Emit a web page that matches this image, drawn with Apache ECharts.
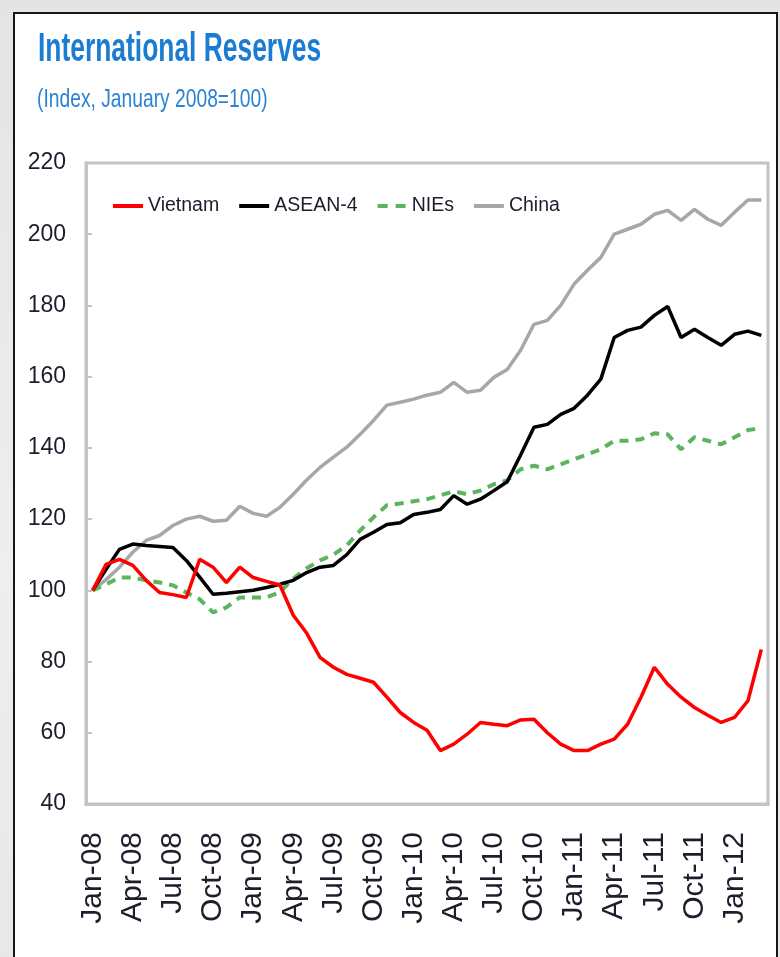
<!DOCTYPE html>
<html>
<head>
<meta charset="utf-8">
<title>International Reserves</title>
<script src="https://cdn.jsdelivr.net/npm/echarts@6/dist/echarts.min.js"></script>
<style>
  html, body { margin: 0; padding: 0; }
  body {
    width: 780px;
    height: 957px;
    overflow: hidden;
    position: relative;
    background: linear-gradient(180deg, #e4e4e5 0%, #eeeeef 60%, #e8e8e9 100%);
  }
  .frame {
    position: absolute;
    left: 13px;
    top: 12px;
    width: 761px;
    height: 960px;
    border: 2px solid #161616;
    background: #fff;
  }
  .chart-container {
    position: absolute;
    left: 0;
    top: 0;
    width: 780px;
    height: 957px;
  }
</style>
</head>
<body>
<div class="frame"></div>
<div id="chart" class="chart-container"></div>
<script>
// monthly, Jan-08 .. Mar-12
const months = [
  'Jan-08', 'Feb-08', 'Mar-08', 'Apr-08', 'May-08', 'Jun-08', 'Jul-08', 'Aug-08', 'Sep-08', 'Oct-08', 'Nov-08', 'Dec-08',
  'Jan-09', 'Feb-09', 'Mar-09', 'Apr-09', 'May-09', 'Jun-09', 'Jul-09', 'Aug-09', 'Sep-09', 'Oct-09', 'Nov-09', 'Dec-09',
  'Jan-10', 'Feb-10', 'Mar-10', 'Apr-10', 'May-10', 'Jun-10', 'Jul-10', 'Aug-10', 'Sep-10', 'Oct-10', 'Nov-10', 'Dec-10',
  'Jan-11', 'Feb-11', 'Mar-11', 'Apr-11', 'May-11', 'Jun-11', 'Jul-11', 'Aug-11', 'Sep-11', 'Oct-11', 'Nov-11', 'Dec-11',
  'Jan-12', 'Feb-12', 'Mar-12',
];

const vietnam = [
  100, 107.3, 108.7, 107, 102.8, 99.4, 98.8, 98, 108.7, 106.5, 102.2, 106.5,
  103.6, 102.5, 101.5, 93, 88, 81.2, 78.4, 76.4, 75.3, 74.2, 70, 65.7,
  62.9, 60.7, 55, 56.8, 59.6, 62.9, 62.4, 62, 63.6, 63.8, 60, 56.8,
  55, 55, 56.8, 58.2, 62.4, 70, 78.4, 73.6, 70, 67.1, 64.9, 62.9,
  64.3, 69, 83.4,
];

const asean4 = [
  100, 105.9, 111.5, 113, 112.6, 112.3, 112, 108.4, 103.7, 98.9, 99.2, 99.6,
  100, 100.8, 101.7, 102.8, 105, 106.5, 107, 110, 114.3, 116.3, 118.5, 119,
  121.3, 121.9, 122.7, 126.6, 124.2, 125.6, 128, 130.5, 138, 145.8, 146.6, 149.4,
  151.1, 154.8, 159.3, 171, 173, 173.9, 177.2, 179.7, 171, 173.3, 171, 168.8,
  171.9, 172.8, 171.6,
];

const nies = [
  100, 101.7, 103.6, 103.6, 102.8, 102.2, 101.4, 99.4, 97.5, 93.8, 95.2, 98,
  98, 98, 99.5, 103.3, 106.2, 108.4, 110, 112.6, 116.8, 120.5, 123.9, 124.4,
  125, 125.6, 126.7, 127.8, 127, 128, 129.8, 130.9, 134, 135, 134, 135.4,
  136.8, 138.2, 139.6, 142, 142, 142.4, 144.1, 143.8, 139.6, 143, 142, 141,
  143, 145, 145.5,
];

const china = [
  100, 103, 106.5, 110.7, 114, 115.4, 118.2, 120, 120.8, 119.4, 119.7, 123.6,
  121.6, 120.8, 123.3, 127, 131, 134.5, 137.4, 140.2, 143.8, 147.7, 152, 152.8,
  153.7, 154.8, 155.6, 158.4, 155.6, 156.2, 159.8, 162, 167.4, 174.7, 175.8, 180,
  186, 189.9, 193.5, 200, 201.4, 202.8, 205.6, 206.7, 203.9, 207, 204.2, 202.5,
  206.2, 209.6, 209.6,
];

const sans = "'Liberation Sans', Arial, sans-serif";
const labelColor = '#1d1d2b';
const frameGray = '#c3c3c3';

const chart = echarts.init(document.getElementById('chart'));

const option = {
  animation: false,
  backgroundColor: 'transparent',
  // title drawn as graphic text so it can be squeezed like the original
  graphic: [
    {
      type: 'text',
      left: 38,
      top: 30,
      scaleX: 0.66,
      style: {
        text: 'International Reserves',
        font: "bold 40px 'Liberation Sans', Arial, sans-serif",
        fill: '#1a7cd2',
      },
    },
    {
      type: 'text',
      left: 37,
      top: 88,
      scaleX: 0.77,
      style: {
        text: '(Index, January 2008=100)',
        font: "25px 'Liberation Sans', Arial, sans-serif",
        fill: '#2b83d4',
      },
    },
  ],
  legend: {
    left: 108,
    top: 191,
    itemGap: 20,
    itemWidth: 30,
    itemHeight: 4,
    textStyle: {
      fontFamily: sans,
      fontSize: 19.5,
      color: labelColor,
    },
    data: [
      { name: 'Vietnam', icon: 'rect' },
      { name: 'ASEAN-4', icon: 'rect' },
      { name: 'NIEs', icon: 'path://M0,0H10V4H0Z M18,0H28V4H18Z' },
      { name: 'China', icon: 'rect' },
    ],
  },
  grid: {
    left: 86,
    right: 12,
    top: 163,
    bottom: 153,
    show: true,
    borderColor: frameGray,
    borderWidth: 3,
  },
  xAxis: {
    type: 'category',
    boundaryGap: true,
    data: months,
    axisLine: {
      lineStyle: { color: frameGray, width: 3 },
    },
    axisTick: {
      interval: 2,
      inside: true,
      length: 7,
      lineStyle: { color: frameGray, width: 2 },
    },
    axisLabel: {
      interval: 2,
      rotate: 90,
      margin: 28,
      fontFamily: sans,
      fontSize: 30,
      color: labelColor,
    },
  },
  yAxis: {
    type: 'value',
    min: 40,
    max: 220,
    interval: 20,
    axisLine: {
      show: true,
      lineStyle: { color: frameGray, width: 3 },
    },
    axisTick: {
      show: true,
      inside: true,
      length: 6,
      lineStyle: { color: frameGray, width: 2 },
    },
    splitLine: { show: false },
    axisLabel: {
      margin: 20,
      fontFamily: sans,
      fontSize: 23,
      color: labelColor,
    },
  },
  series: [
    {
      name: 'Vietnam',
      type: 'line',
      data: vietnam,
      showSymbol: false,
      symbol: 'none',
      itemStyle: { color: '#ff0000' },
      lineStyle: { color: '#ff0000', width: 3.5 },
      z: 5,
    },
    {
      name: 'ASEAN-4',
      type: 'line',
      data: asean4,
      showSymbol: false,
      symbol: 'none',
      itemStyle: { color: '#000000' },
      lineStyle: { color: '#000000', width: 3.5 },
      z: 4,
    },
    {
      name: 'NIEs',
      type: 'line',
      data: nies,
      showSymbol: false,
      symbol: 'none',
      itemStyle: { color: '#5eb45e' },
      lineStyle: { color: '#5eb45e', width: 4, type: [9, 7] },
      z: 3,
    },
    {
      name: 'China',
      type: 'line',
      data: china,
      showSymbol: false,
      symbol: 'none',
      itemStyle: { color: '#a4a7ab' },
      lineStyle: { color: '#a4a7ab', width: 3.5 },
      z: 2,
    },
  ],
};

chart.setOption(option);
</script>
</body>
</html>
